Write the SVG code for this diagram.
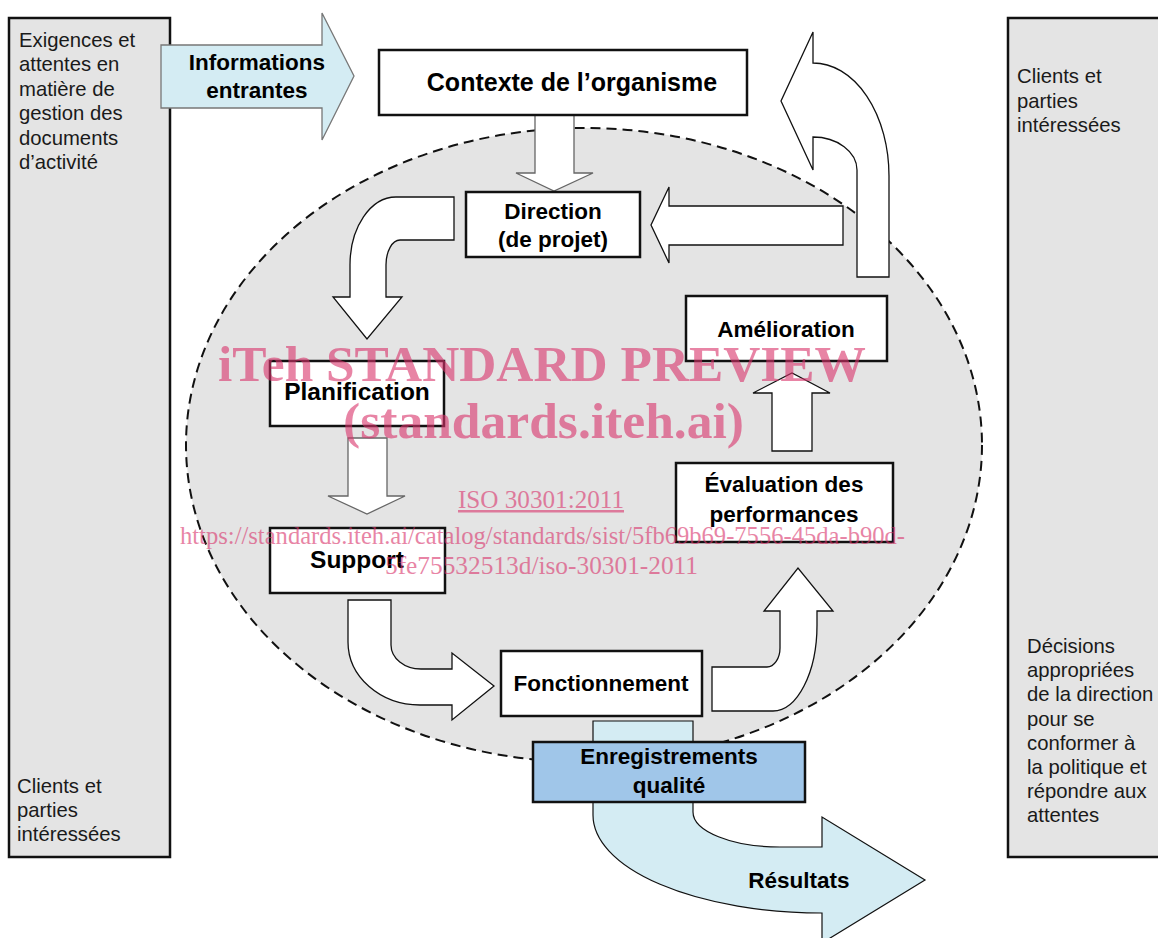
<svg xmlns="http://www.w3.org/2000/svg" width="1158" height="938" viewBox="0 0 1158 938">
<style>
.panel{fill:#e4e4e4;stroke:#111;stroke-width:2.5}
.ptxt{font-family:"Liberation Sans",Arial,sans-serif;font-size:20.3px;fill:#1a1a1a}
.box{fill:#fff;stroke:#111;stroke-width:2.5}
.btxt{font-family:"Liberation Sans",Arial,sans-serif;font-weight:bold;font-size:22.5px;fill:#000;text-anchor:middle}
.big{font-size:24.5px}
.ctx{font-size:25px}
.arr{fill:#fff;stroke:#111;stroke-width:1.3}
.arrg{fill:#fff;stroke:#666;stroke-width:1.3}
.blue{fill:#d4ecf3;stroke:#111;stroke-width:1.2}
.wm{font-family:"Liberation Serif","Times New Roman",serif;fill:#d9336b;opacity:0.6}
</style>
<rect width="1158" height="938" fill="#fff"/>
<g id="scope">
<ellipse cx="584" cy="445" rx="398" ry="317" fill="#e4e4e4" stroke="#111" stroke-width="2" stroke-dasharray="10 6"/>
</g>
<g id="panel-left">
<rect class="panel" x="9" y="18" width="161" height="839"/>
<text class="ptxt"><tspan x="19" y="46.5">Exigences et</tspan><tspan x="19" y="71">attentes en</tspan><tspan x="19" y="95.5">matière de</tspan><tspan x="19" y="120">gestion des</tspan><tspan x="19" y="144.5">documents</tspan><tspan x="19" y="169">d’activité</tspan></text>
<text class="ptxt"><tspan x="17" y="793">Clients et</tspan><tspan x="17" y="817">parties</tspan><tspan x="17" y="841">intéressées</tspan></text>
</g>
<g id="panel-right">
<rect class="panel" x="1008" y="18" width="170" height="839"/>
<text class="ptxt"><tspan x="1017" y="83">Clients et</tspan><tspan x="1017" y="107.5">parties</tspan><tspan x="1017" y="132">intéressées</tspan></text>
<text class="ptxt"><tspan x="1027" y="653">Décisions</tspan><tspan x="1027" y="677">appropriées</tspan><tspan x="1027" y="701">de la direction</tspan><tspan x="1027" y="725.5">pour se</tspan><tspan x="1027" y="749.5">conformer à</tspan><tspan x="1027" y="774">la politique et</tspan><tspan x="1027" y="798">répondre aux</tspan><tspan x="1027" y="822">attentes</tspan></text>
</g>
<g id="connectors">
<path class="arrg" d="M535,115 L574,115 L574,173 L593,173 L554,191 L516,173 L535,173 Z"/>
<path class="arr" d="M889,277 L889,176 A76,113 0 0 0 813,63 L813,32 L781,101 L813,170 L813,137 A44,33 0 0 1 857,170 L857,277 Z"/>
<path class="arr" d="M843,206 L669,206 L669,187 L651,225 L669,263 L669,245 L843,245 Z"/>
<path class="arr" d="M454,197 L454,240 L400,240 A14,25 0 0 0 386,265 L386,297 L402,297 L367,339 L333,297 L350,297 L350,265 A46,68 0 0 1 396,197 Z"/>
<path class="arrg" d="M348,438 L387,438 L387,496 L405,496 L367,514 L328,496 L348,496 Z"/>
<path class="arr" d="M348,600 L391,600 L391,645 A30,24 0 0 0 421,669 L452,669 L452,653 L494,686 L452,720 L452,705 L420,705 A72,63 0 0 1 348,642 Z"/>
<path class="arr" d="M712,711 L773,711 A44,86 0 0 0 817,625 L817,611 L833,611 L798,568 L764,611 L780,611 L780,648 A13,19 0 0 1 767,667 L712,667 Z"/>
<path class="arr" d="M772,451 L772,393 L753,393 L792,373 L830,393 L812,393 L812,451 Z"/>
</g>
<g id="informations-entrantes">
<path d="M161,45 L322,45 L322,13 L354,76 L322,140 L322,108 L161,108 Z" fill="#d4ecf3" stroke="#777" stroke-width="1.3"/>
<text class="btxt" x="257" y="70">Informations</text>
<text class="btxt" x="257" y="98">entrantes</text>
</g>
<g id="resultats">
<path class="blue" d="M593,721 L693,721 L693,812 A87,35 0 0 0 780,847 L822,847 L822,817 L925,880 L822,943 L822,913 A229,98 0 0 1 593,815 Z"/>
<text class="btxt" x="799" y="888">Résultats</text>
</g>
<g id="contexte">
<rect class="box" x="379" y="50" width="368" height="65"/>
<text class="btxt ctx" x="572" y="91">Contexte de l’organisme</text>
</g>
<g id="direction">
<rect class="box" x="466" y="192" width="174" height="65"/>
<text class="btxt" x="553" y="219">Direction</text>
<text class="btxt" x="553" y="247">(de projet)</text>
</g>
<g id="amelioration">
<rect class="box" x="686" y="296" width="201" height="65"/>
<text class="btxt" x="786" y="337">Amélioration</text>
</g>
<g id="planification">
<rect class="box" x="270" y="361" width="174" height="65"/>
<text class="btxt big" x="357" y="400">Planification</text>
</g>
<g id="evaluation">
<rect class="box" x="676" y="463" width="217" height="79"/>
<text class="btxt" x="784" y="492">Évaluation des</text>
<text class="btxt" x="784" y="522">performances</text>
</g>
<g id="support">
<rect class="box" x="270" y="528" width="175" height="65"/>
<text class="btxt big" x="357" y="568">Support</text>
</g>
<g id="fonctionnement">
<rect class="box" x="501" y="651" width="201" height="65"/>
<text class="btxt" x="601" y="691">Fonctionnement</text>
</g>
<g id="enregistrements">
<rect x="533" y="742" width="272" height="60" fill="#a0c6e9" stroke="#111" stroke-width="2.5"/>
<text class="btxt" x="669" y="764">Enregistrements</text>
<text class="btxt" x="669" y="793">qualité</text>
</g>
<g id="watermark">
<text class="wm" x="218" y="381" font-size="50" font-weight="bold" textLength="648" lengthAdjust="spacingAndGlyphs">iTeh STANDARD PREVIEW</text>
<text class="wm" x="343" y="438" font-size="50" font-weight="bold" textLength="401" lengthAdjust="spacingAndGlyphs">(standards.iteh.ai)</text>
<text class="wm" x="458" y="508" font-size="25" textLength="166" lengthAdjust="spacingAndGlyphs" text-decoration="underline">ISO 30301:2011</text>
<text class="wm" x="180" y="544" font-size="25" textLength="725" lengthAdjust="spacingAndGlyphs">https://standards.iteh.ai/catalog/standards/sist/5fb69b69-7556-45da-b90d-</text>
<text class="wm" x="385" y="574" font-size="25" textLength="313" lengthAdjust="spacingAndGlyphs">5fe75532513d/iso-30301-2011</text>
</g>
</svg>
